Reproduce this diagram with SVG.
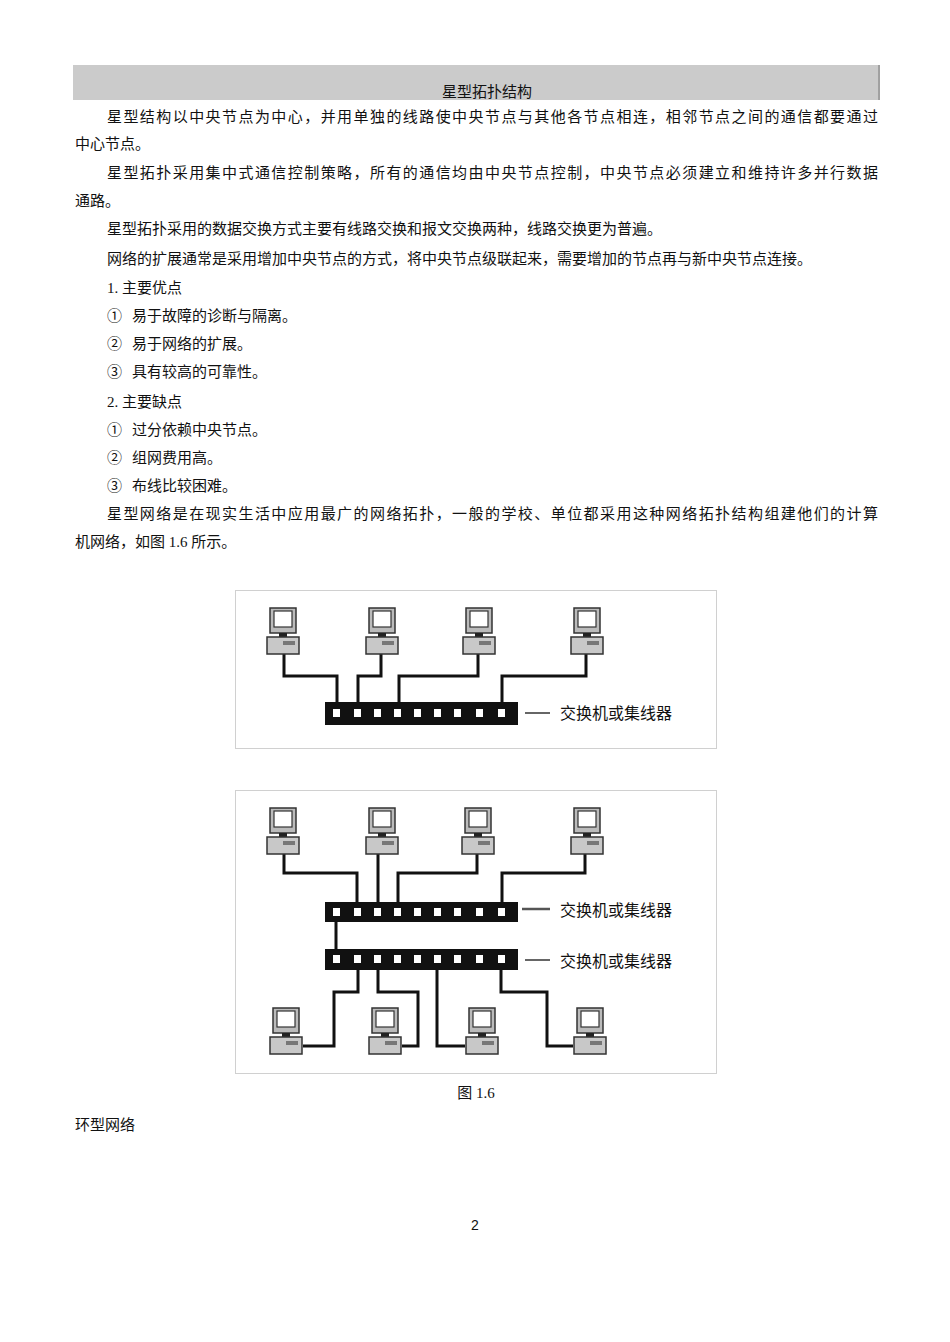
<svg xmlns="http://www.w3.org/2000/svg" xmlns:xlink="http://www.w3.org/1999/xlink" width="950" height="1342" viewBox="0 0 950 1342">
<style>
.t{font-family:"Liberation Serif","Noto Sans CJK SC",serif;font-size:15px;fill:#111}
.lbl{font-family:"Noto Sans CJK SC",sans-serif;font-size:16px;fill:#111}
.w{fill:none;stroke:#111;stroke-width:3}
.sw{fill:#111}
.frame{fill:#fff;stroke:#d0d0d0;stroke-width:1}
</style>
<defs>
<g id="pc">
<rect x="-13" y="0" width="26" height="25" fill="#bbb" stroke="#333" stroke-width="1.5"/>
<rect x="-9" y="3" width="18" height="16" fill="#fff" stroke="#333" stroke-width="1.2"/>
<rect x="-4" y="25" width="8" height="4" fill="#222"/>
<rect x="-16" y="29" width="32" height="17" fill="#c8c8c8" stroke="#333" stroke-width="1.5"/>
<rect x="0" y="33" width="12" height="4" fill="#777"/>
</g>
<g id="ports">
<rect x="333" y="-1" width="7" height="8"/><rect x="354" y="-1" width="7" height="8"/><rect x="374" y="-1" width="7" height="8"/><rect x="394" y="-1" width="7" height="8"/><rect x="414" y="-1" width="7" height="8"/><rect x="434" y="-1" width="7" height="8"/><rect x="454" y="-1" width="7" height="8"/><rect x="476" y="-1" width="7" height="8"/><rect x="498" y="-1" width="7" height="8"/>
</g>
</defs>
<rect x="73" y="65" width="807" height="35" fill="#cbcbcb"/>
<line x1="879" y1="65" x2="879" y2="100" stroke="#777"/>
<text class="t" x="487" y="97" text-anchor="middle">星型拓扑结构</text>
<text class="t" x="107" y="122" textLength="771" lengthAdjust="spacing">星型结构以中央节点为中心，并用单独的线路使中央节点与其他各节点相连，相邻节点之间的通信都要通过</text>
<text class="t" x="75" y="149">中心节点。</text>
<text class="t" x="107" y="178" textLength="771" lengthAdjust="spacing">星型拓扑采用集中式通信控制策略，所有的通信均由中央节点控制，中央节点必须建立和维持许多并行数据</text>
<text class="t" x="75" y="206">通路。</text>
<text class="t" x="107" y="234">星型拓扑采用的数据交换方式主要有线路交换和报文交换两种，线路交换更为普遍。</text>
<text class="t" x="107" y="264">网络的扩展通常是采用增加中央节点的方式，将中央节点级联起来，需要增加的节点再与新中央节点连接。</text>
<text class="t" x="107" y="293">1. 主要优点</text>
<text class="t" x="107" y="321">①</text><text class="t" x="132" y="321">易于故障的诊断与隔离。</text>
<text class="t" x="107" y="349">②</text><text class="t" x="132" y="349">易于网络的扩展。</text>
<text class="t" x="107" y="377">③</text><text class="t" x="132" y="377">具有较高的可靠性。</text>
<text class="t" x="107" y="407">2. 主要缺点</text>
<text class="t" x="107" y="435">①</text><text class="t" x="132" y="435">过分依赖中央节点。</text>
<text class="t" x="107" y="463">②</text><text class="t" x="132" y="463">组网费用高。</text>
<text class="t" x="107" y="491">③</text><text class="t" x="132" y="491">布线比较困难。</text>
<text class="t" x="107" y="519" textLength="771" lengthAdjust="spacing">星型网络是在现实生活中应用最广的网络拓扑，一般的学校、单位都采用这种网络拓扑结构组建他们的计算</text>
<text class="t" x="75" y="547">机网络，如图 1.6 所示。</text>

<rect class="frame" x="235.5" y="590.5" width="481" height="158"/>
<g id="connectors1">
<polyline class="w" points="284,654 284,676 337,676 337,703"/>
<polyline class="w" points="381,654 381,676 358,676 358,703"/>
<polyline class="w" points="478,654 478,676 399,676 399,703"/>
<polyline class="w" points="586,654 586,676 502,676 502,703"/>
<line x1="525" y1="713" x2="550" y2="713" stroke="#333" stroke-width="1.5"/>
</g>
<g id="pc1a"><use xlink:href="#pc" x="283" y="608"/></g>
<g id="pc1b"><use xlink:href="#pc" x="382" y="608"/></g>
<g id="pc1c"><use xlink:href="#pc" x="479" y="608"/></g>
<g id="pc1d"><use xlink:href="#pc" x="587" y="608"/></g>
<g id="switch1"><rect class="sw" x="325" y="702" width="193" height="23"/><use xlink:href="#ports" y="710" fill="#fff"/></g>
<text class="lbl" x="560" y="719">交换机或集线器</text>

<rect class="frame" x="235.5" y="790.5" width="481" height="283"/>
<g id="connectors2">
<polyline class="w" points="284,853 284,873 357,873 357,903"/>
<polyline class="w" points="378,853 378,903"/>
<polyline class="w" points="477,853 477,873 398,873 398,903"/>
<polyline class="w" points="585,853 585,873 502,873 502,903"/>
<line class="w" x1="336" y1="921" x2="336" y2="950"/>
<polyline class="w" points="358,969 358,992 334,992 334,1046 303,1046"/>
<polyline class="w" points="378,969 378,992 418,992 418,1046 402,1046"/>
<polyline class="w" points="437,969 437,1046 465,1046"/>
<polyline class="w" points="501,969 501,992 547,992 547,1046 573,1046"/>
<line x1="522" y1="909" x2="550" y2="909" stroke="#555" stroke-width="2.5"/>
<line x1="525" y1="960" x2="550" y2="960" stroke="#333" stroke-width="1.5"/>
</g>
<g id="pc2a"><use xlink:href="#pc" x="283" y="808"/></g>
<g id="pc2b"><use xlink:href="#pc" x="382" y="808"/></g>
<g id="pc2c"><use xlink:href="#pc" x="478" y="808"/></g>
<g id="pc2d"><use xlink:href="#pc" x="587" y="808"/></g>
<g id="switch2"><rect class="sw" x="325" y="902" width="193" height="20"/><use xlink:href="#ports" y="909" fill="#fff"/></g>
<g id="switch3"><rect class="sw" x="325" y="949" width="193" height="21"/><use xlink:href="#ports" y="956" fill="#fff"/></g>
<text class="lbl" x="560" y="916">交换机或集线器</text>
<text class="lbl" x="560" y="967">交换机或集线器</text>
<g id="pc3a"><use xlink:href="#pc" x="286" y="1008"/></g>
<g id="pc3b"><use xlink:href="#pc" x="385" y="1008"/></g>
<g id="pc3c"><use xlink:href="#pc" x="482" y="1008"/></g>
<g id="pc3d"><use xlink:href="#pc" x="590" y="1008"/></g>

<text class="t" x="476" y="1098" text-anchor="middle">图 1.6</text>
<text class="t" x="75" y="1130">环型网络</text>
<text x="475" y="1230" text-anchor="middle" style="font-family:'Liberation Sans',sans-serif;font-size:14px;fill:#111">2</text>
</svg>
